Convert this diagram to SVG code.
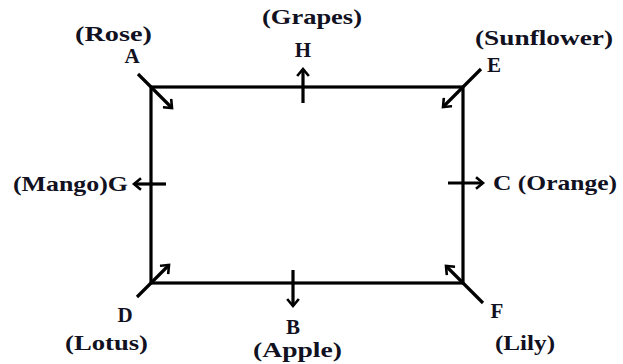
<svg xmlns="http://www.w3.org/2000/svg" width="623" height="364" viewBox="0 0 623 364">
<style>
.t{font-family:"Liberation Serif","Times New Roman",serif;font-weight:bold;font-size:21px;fill:#111122;}
.ln{stroke:#000;stroke-width:3.2;fill:none;stroke-linecap:butt;}
.ar{stroke:#000;stroke-width:3.2;fill:none;marker-end:url(#ah);}
</style>
<defs>
<marker id="ah" markerUnits="userSpaceOnUse" markerWidth="14" markerHeight="14" viewBox="-10 -7 14 14" refX="0" refY="0" orient="auto">
<path d="M-6,-5 L0,0 L-6,5" fill="none" stroke="#000" stroke-width="2.6" stroke-linecap="square"/>
</marker>
</defs>
<rect x="0" y="0" width="623" height="364" fill="#fff"/>
<g id="rectangle">
<rect x="151" y="87" width="312" height="196" class="ln"/>
</g>
<g id="connectors">
<line x1="138" y1="74" x2="151" y2="87" class="ln"/>
<line x1="151" y1="87" x2="172" y2="108" class="ar"/>
<line x1="481" y1="69" x2="463" y2="87" class="ln"/>
<line x1="463" y1="87" x2="443" y2="107" class="ar"/>
<line x1="137" y1="297" x2="151" y2="283" class="ln"/>
<line x1="151" y1="283" x2="169" y2="265" class="ar"/>
<line x1="483" y1="303" x2="463" y2="283" class="ln"/>
<line x1="463" y1="283" x2="446" y2="266" class="ar"/>
<line x1="303" y1="103" x2="303" y2="69" class="ar"/>
<line x1="293" y1="270" x2="293" y2="306" class="ar"/>
<line x1="166" y1="184" x2="134" y2="184" class="ar"/>
<line x1="448" y1="183" x2="483" y2="183" class="ar"/>
</g>
<g id="node-A">
<text class="t" x="75" y="41" textLength="77" lengthAdjust="spacingAndGlyphs">(Rose)</text>
<text class="t" x="132" y="63" text-anchor="middle">A</text>
</g>
<g id="node-H">
<text class="t" x="262" y="24" textLength="100" lengthAdjust="spacingAndGlyphs">(Grapes)</text>
<text class="t" x="303" y="57" text-anchor="middle">H</text>
</g>
<g id="node-E">
<text class="t" x="475" y="45" textLength="138" lengthAdjust="spacingAndGlyphs">(Sunflower)</text>
<text class="t" x="494" y="72" text-anchor="middle">E</text>
</g>
<g id="node-G">
<text class="t" x="13" y="191" textLength="115" lengthAdjust="spacingAndGlyphs">(Mango)G</text>
</g>
<g id="node-C">
<text class="t" x="493" y="190" textLength="124" lengthAdjust="spacingAndGlyphs">C (Orange)</text>
</g>
<g id="node-D">
<text class="t" x="125" y="322" text-anchor="middle">D</text>
<text class="t" x="65" y="350" textLength="83" lengthAdjust="spacingAndGlyphs">(Lotus)</text>
</g>
<g id="node-B">
<text class="t" x="293" y="334" text-anchor="middle">B</text>
<text class="t" x="253" y="357" textLength="89" lengthAdjust="spacingAndGlyphs">(Apple)</text>
</g>
<g id="node-F">
<text class="t" x="497" y="318" text-anchor="middle">F</text>
<text class="t" x="495" y="350" textLength="60" lengthAdjust="spacingAndGlyphs">(Lily)</text>
</g>
</svg>
